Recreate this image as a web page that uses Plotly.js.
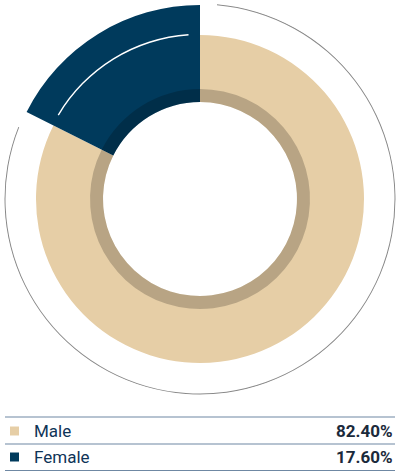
<!DOCTYPE html>
<html>
<head>
<meta charset="utf-8">
<script src="https://cdn.plot.ly/plotly-3.0.1.min.js"></script>
<style>html,body{margin:0;padding:0;background:#fff;}#chart{width:399px;height:476px;}</style>
</head>
<body>
<div id="chart"></div>
<script>
// ---- data ----
const categories = ["Male", "Female"];
const shares = [82.40, 17.60];
const labelsPct = ["82.40%", "17.60%"];

// ---- style ----
const mainColors = ["#e6cea6", "#003a5c"];
const W = 399, H = 476;
const cx = 200, cy = 199, R = 196;   // px
const innerR = 97, bandW = 13;
const outerMale = 164, outerFemale = 194;
const greyR = 194.5, arcGap = 5;

// angular positions from shares
const widths = shares.map(s => s * 3.6);
let acc = 0;
const centers = widths.map(w => { const c = acc + w / 2; acc += w; return c; });

const traces = [
  { // main slices
    type: "barpolar",
    theta: centers, width: widths,
    base: [innerR, innerR],
    r: [outerMale - innerR, outerFemale - innerR],
    marker: { color: mainColors, line: { width: 0 } },
    hoverinfo: "skip"
  },
  { // darker inner band
    type: "barpolar",
    theta: centers, width: widths,
    base: [innerR, innerR], r: [bandW, bandW],
    marker: { color: "rgba(0,0,0,0.2)", line: { width: 0 } },
    hoverinfo: "skip"
  },
  { // thin grey outer arc around male slice
    type: "barpolar",
    theta: [centers[0]], width: [widths[0] - 2 * arcGap],
    base: [greyR], r: [1],
    marker: { color: "#8a8a8a", line: { width: 0 } },
    hoverinfo: "skip"
  },
  { // thin white arc on female slice
    type: "barpolar",
    theta: [centers[1]], width: [widths[1] - 2 * 4],
    base: [outerMale], r: [1.4],
    marker: { color: "#ffffff", line: { width: 0 } },
    hoverinfo: "skip"
  }
];

// table
const lineYs = [417, 444, 470.5];
const rowYs = [431, 457];
const py = y => 1 - y / H;
const px = x => x / W;
const shapes = [];
lineYs.forEach(y => shapes.push({
  type: "line", xref: "paper", yref: "paper",
  x0: px(5), x1: px(395), y0: py(y), y1: py(y),
  line: { color: "#6f88a3", width: 1.2 }
}));
const annotations = [];
categories.forEach((c, i) => {
  shapes.push({
    type: "rect", xref: "paper", yref: "paper",
    x0: px(10), x1: px(19), y0: py(rowYs[i] + 4.5), y1: py(rowYs[i] - 4.5),
    fillcolor: mainColors[i], line: { width: 0 }
  });
  annotations.push({
    xref: "paper", yref: "paper", x: px(32), y: py(rowYs[i]),
    xanchor: "left", yanchor: "middle", showarrow: false,
    text: c, font: { family: "Roboto, sans-serif", size: 17, color: "#0f3457" }
  });
  annotations.push({
    xref: "paper", yref: "paper", x: px(395), y: py(rowYs[i]),
    xanchor: "right", yanchor: "middle", showarrow: false,
    text: "<b>" + labelsPct[i] + "</b>", font: { family: "Roboto, sans-serif", size: 17, color: "#1b2a3b" }
  });
});

const layout = {
  width: W, height: H,
  margin: { l: 0, r: 0, t: 0, b: 0 },
  paper_bgcolor: "#fff",
  showlegend: false,
  barmode: "overlay",
  polar: {
    domain: { x: [px(cx - R), px(cx + R)], y: [py(cy + R), py(cy - R)] },
    bgcolor: "rgba(0,0,0,0)",
    hole: 0,
    radialaxis: { range: [0, R], visible: false, showgrid: false, showline: false, showticklabels: false, ticks: "" },
    angularaxis: { rotation: 90, direction: "clockwise", visible: false, showgrid: false, showline: false, showticklabels: false, ticks: "" }
  },
  shapes: shapes,
  annotations: annotations
};

Plotly.newPlot("chart", traces, layout, { displayModeBar: false, staticPlot: true });
</script>
</body>
</html>
